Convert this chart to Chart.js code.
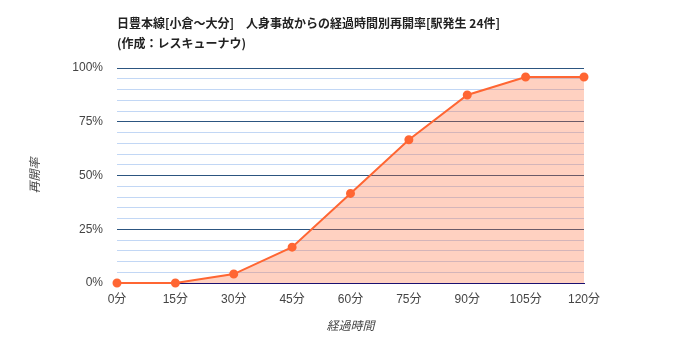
<!DOCTYPE html>
<html>
<head>
<meta charset="utf-8">
<script src="https://cdn.jsdelivr.net/npm/chart.js@4"></script>
<style>
  html, body { margin: 0; padding: 0; background: #fff; }
  #wrap { width: 700px; height: 350px; }
</style>
</head>
<body>
<div id="wrap"><canvas id="chart"></canvas></div>
<script>
const minutes = [0, 15, 30, 45, 60, 75, 90, 105, 120];
const reopenRate = [0, 0, 4.17, 16.67, 41.67, 66.67, 87.5, 95.83, 95.83];
const titleLines = [
  "日豊本線[小倉～大分]　人身事故からの経過時間別再開率[駅発生 24件]",
  "(作成：レスキューナウ)",
];

const fontFamily = '"Liberation Sans", "Noto Sans CJK JP", sans-serif';

new Chart(document.getElementById("chart"), {
  type: "line",
  data: {
    labels: minutes.map((m) => m + "分"),
    datasets: [
      {
        data: reopenRate,
        borderColor: "#ff6633",
        backgroundColor: "rgba(255, 102, 51, 0.3)",
        pointBackgroundColor: "#ff6633",
        pointBorderColor: "#ff6633",
        borderWidth: 2,
        pointRadius: 3.5,
        fill: "origin",
        tension: 0,
        clip: false,
      },
    ],
  },
  options: {
    responsive: true,
    maintainAspectRatio: false,
    animation: false,
    layout: { padding: { left: 0, right: 116, top: 0, bottom: 0 } },
    plugins: {
      legend: { display: false },
      tooltip: { enabled: false },
      title: {
        display: true,
        text: titleLines,
        align: "start",
        fullSize: false,
        color: "#222",
        font: { family: '"Noto Sans CJK JP", sans-serif', size: 12, weight: "bold", lineHeight: 1.67 },
        padding: { top: 13, bottom: 15 },
      },
    },
    scales: {
      x: {
        grid: { display: false, drawTicks: false },
        border: { display: true, color: "#1a1070", width: 1 },
        ticks: {
          color: "#444",
          font: { family: fontFamily, size: 12 },
          padding: 9,
          maxRotation: 0,
        },
        title: {
          display: true,
          text: "経過時間",
          color: "#444",
          font: { family: fontFamily, size: 12, style: "italic" },
          padding: { top: 0, bottom: 16 },
        },
        afterFit: (s) => { s.height = 67; },
      },
      y: {
        min: 0,
        max: 100,
        border: { display: false },
        grid: {
          drawTicks: false,
          color: (c) => {
            const v = c.tick ? c.tick.value : 0;
            if (v === 0) return "#1a1070";
            return v % 25 === 0 ? "#2c5580" : "#c2d7f5";
          },
        },
        ticks: {
          stepSize: 5,
          autoSkip: false,
          color: "#444",
          font: { family: fontFamily, size: 12 },
          padding: 14,
          callback: (v) => (v % 25 === 0 ? v + "%" : ""),
        },
        title: {
          display: true,
          text: "再開率",
          color: "#444",
          font: { family: fontFamily, size: 12, style: "italic" },
          padding: { top: 28, bottom: 0 },
        },
        afterFit: (s) => { s.width = 117; },
      },
    },
  },
});
</script>
</body>
</html>
